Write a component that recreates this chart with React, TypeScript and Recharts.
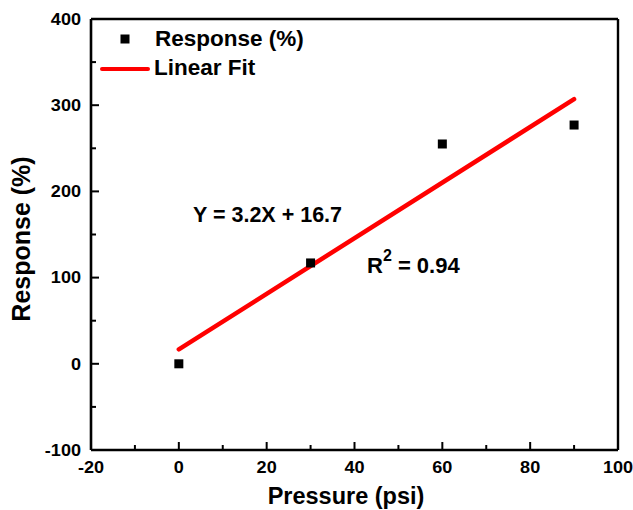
import React from 'react';
import { ComposedChart, XAxis, YAxis, Scatter, Line, ReferenceLine, Customized } from 'recharts';

const pressure = [0, 30, 60, 90];
const response = [0, 117, 255, 277];
const fitX = [0, 90];
const fitY = [16.7, 307];
const xTicks = [-20, -10, 0, 10, 20, 30, 40, 50, 60, 70, 80, 90, 100];
const yTicks = [-100, -50, 0, 50, 100, 150, 200, 250, 300, 350, 400];

const points = pressure.map((x, i) => ({ x, y: response[i] }));
const fitData = fitX.map((x, i) => ({ x, y: fitY[i] }));

const FONT = '"Liberation Sans", Arial, sans-serif';

const YTick = (props: any) => {
  const { x, y, payload } = props;
  const v = payload.value;
  const major = v % 100 === 0;
  return (
    <g>
      <line x1={x} x2={x + (major ? 8 : 5)} y1={y} y2={y} stroke="#000" strokeWidth={2} />
      {major && (
        <text
          transform={`translate(${x - 10},${y + 5.7}) scale(1.13,1)`}
          textAnchor="end"
          fontFamily={FONT}
          fontWeight="bold"
          fontSize={16}
          fill="#000"
        >
          {v}
        </text>
      )}
    </g>
  );
};

const XTick = (props: any) => {
  const { x, y, payload } = props;
  const v = payload.value;
  const major = v % 20 === 0;
  return (
    <g>
      <line x1={x} x2={x} y1={y} y2={y - (major ? 8 : 5)} stroke="#000" strokeWidth={2} />
      {major && (
        <text
          transform={`translate(${x},${y + 23}) scale(1.13,1)`}
          textAnchor="middle"
          fontFamily={FONT}
          fontWeight="bold"
          fontSize={16}
          fill="#000"
        >
          {v}
        </text>
      )}
    </g>
  );
};

const Square = (props: any) => {
  const { cx, cy } = props;
  return <rect x={cx - 4.5} y={cy - 4.5} width={9} height={9} fill="#000" />;
};

const Overlay = () => (
  <g fontFamily={FONT} fontWeight="bold" fill="#000">
    {/* legend */}
    <rect x={120.5} y={34.5} width={9} height={9} fill="#000" />
    <text x={155} y={46} fontSize={22.5}>Response (%)</text>
    <line x1={102} x2={148} y1={69} y2={69} stroke="#ff0000" strokeWidth={4} strokeLinecap="round" />
    <text x={154} y={75} fontSize={22.5}>Linear Fit</text>
    {/* annotations */}
    <text x={193} y={222} fontSize={21.5}>Y = 3.2X + 16.7</text>
    <text x={367} y={273} fontSize={22}>
      R
      <tspan fontSize={16} dy={-12}>2</tspan>
      <tspan dy={12}> = 0.94</tspan>
    </text>
    {/* axis titles */}
    <text x={346} y={504} fontSize={23.5} textAnchor="middle">Pressure (psi)</text>
    <text transform="translate(30,239) rotate(-90)" fontSize={25} textAnchor="middle">Response (%)</text>
  </g>
);

export default function App() {
  return (
    <div style={{ position: 'absolute', left: 0, top: 0 }}>
      <ComposedChart width={633} height={510} margin={{ top: 19, right: 15, left: 0, bottom: 0 }}>
        <XAxis
          type="number"
          dataKey="x"
          domain={[-20, 100]}
          ticks={xTicks}
          interval={0}
          height={60}
          tickSize={0}
          tickMargin={0}
          tickLine={false}
          tick={<XTick />}
          axisLine={{ stroke: '#000', strokeWidth: 2.6 }}
          allowDataOverflow
        />
        <YAxis
          type="number"
          dataKey="y"
          domain={[-100, 400]}
          ticks={yTicks}
          interval={0}
          width={91}
          tickSize={0}
          tickMargin={0}
          tickLine={false}
          tick={<YTick />}
          axisLine={{ stroke: '#000', strokeWidth: 2.6 }}
          allowDataOverflow
        />
        <ReferenceLine y={400} stroke="#000" strokeWidth={2.4} />
        <ReferenceLine x={100} stroke="#000" strokeWidth={2.4} />
        <Line
          data={fitData}
          dataKey="y"
          stroke="#ff0000"
          strokeWidth={4.5}
          strokeLinecap="round"
          dot={false}
          activeDot={false}
          isAnimationActive={false}
        />
        <Scatter data={points} dataKey="y" shape={<Square />} isAnimationActive={false} />
        <Customized component={Overlay} />
      </ComposedChart>
    </div>
  );
}
